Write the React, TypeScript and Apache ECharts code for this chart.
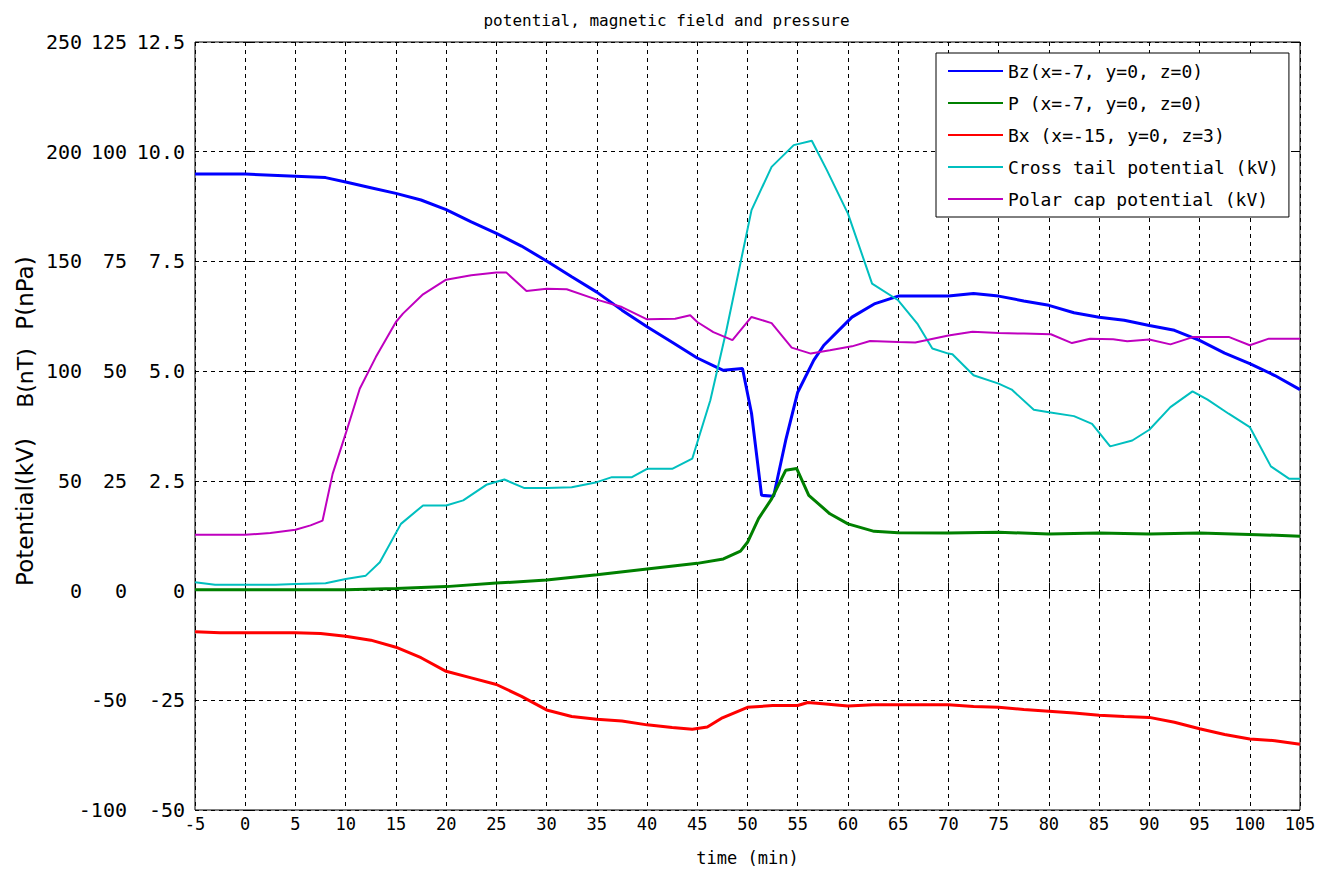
import React, { useEffect, useRef } from "react";
import * as echarts from "echarts";

// ---- data (time in minutes) ----
const bzTime = [-5, 0, 5, 8, 10, 12.5, 15, 17.5, 20, 22.5, 25, 27.5, 30, 32.5, 35, 37.5, 40, 42.5, 45, 47, 47.6, 49.5, 50.4, 51.4, 52.6, 53.8, 55, 56.6, 57.6, 60.4, 62.7, 65, 70, 72.5, 75, 77.5, 80, 82.5, 85, 87.5, 90, 92.5, 95, 97.5, 100, 102.5, 105];
const bzValues = [94.9, 94.9, 94.4, 94.1, 93.1, 91.8, 90.5, 89.0, 86.8, 84.0, 81.4, 78.5, 75.1, 71.5, 68.0, 63.9, 60.1, 56.6, 53.0, 50.8, 50.2, 50.6, 40.4, 21.7, 21.5, 34.2, 45.2, 52.5, 55.9, 62.3, 65.4, 67.1, 67.1, 67.7, 67.1, 66.0, 65.0, 63.3, 62.3, 61.6, 60.4, 59.3, 57.0, 54.1, 51.7, 49.0, 45.8];

const pTime = [-5, 0, 5, 10, 15, 20, 25, 30, 35, 40, 45, 47.6, 49.3, 50, 51.1, 52.4, 53.8, 54.9, 56.1, 58.2, 60, 62.6, 65, 70, 75, 80, 85, 90, 95, 100, 105];
const pValues = [0.02, 0.02, 0.02, 0.02, 0.05, 0.09, 0.17, 0.24, 0.36, 0.49, 0.62, 0.72, 0.90, 1.10, 1.64, 2.09, 2.74, 2.78, 2.17, 1.75, 1.52, 1.35, 1.32, 1.31, 1.33, 1.29, 1.31, 1.29, 1.31, 1.28, 1.24];

const bxTime = [-5, -2.5, 0, 5, 7.5, 10, 12.5, 15, 17.5, 20, 22.5, 25, 27.5, 30, 32.5, 35, 37.5, 40, 42.5, 44.5, 46, 47.5, 50, 52.5, 55, 56, 57.5, 60, 62.5, 65, 70, 72.5, 75, 77.5, 80, 82.5, 85, 87.5, 90, 92.5, 95, 97.5, 100, 102.5, 105];
const bxValues = [-9.4, -9.6, -9.6, -9.6, -9.8, -10.4, -11.3, -12.9, -15.3, -18.4, -19.9, -21.4, -24.1, -27.2, -28.7, -29.3, -29.7, -30.6, -31.2, -31.6, -31.1, -29.0, -26.6, -26.2, -26.2, -25.5, -25.8, -26.3, -26.0, -26.0, -26.0, -26.4, -26.6, -27.1, -27.5, -27.9, -28.4, -28.7, -28.9, -30.0, -31.5, -32.8, -33.8, -34.2, -35.0];

const crossTime = [-5, -3, 0, 3, 5, 8, 10, 12, 13.4, 15.5, 17.7, 20, 21.7, 24, 25.8, 27.8, 30, 32.5, 35, 36.5, 38.5, 40, 42.5, 44.5, 46.3, 47.9, 50.4, 52.4, 54.6, 56.4, 57.9, 60, 62.4, 65, 66.9, 68.4, 70, 70.4, 72.5, 75, 76.3, 78.5, 80, 82.5, 84.3, 86.1, 88.3, 90, 92.1, 94.3, 95.8, 97.9, 100, 102.1, 103.9, 105];
const crossValues = [3.8, 2.6, 2.6, 2.6, 3.0, 3.3, 5.3, 6.8, 12.9, 30.4, 38.8, 38.8, 41.1, 48.2, 50.6, 46.7, 46.7, 47.1, 49.4, 51.7, 51.7, 55.5, 55.5, 60.1, 86.7, 118.6, 173.4, 193.1, 203.0, 205.0, 191.6, 171.8, 139.9, 132.3, 121.7, 110.3, 108.0, 107.7, 98.1, 94.3, 91.6, 82.4, 81.3, 79.5, 76.0, 65.7, 68.4, 73.3, 83.6, 90.8, 87.0, 80.6, 74.5, 56.6, 51.0, 51.0];

const polarTime = [-5, 0, 2.5, 5, 6.5, 7.7, 8.7, 10, 11.4, 13, 15, 15.7, 17.7, 20, 22.5, 25, 26, 28, 30, 32, 35, 37.5, 40, 42.8, 44.3, 45, 46.6, 48.5, 50.4, 52.4, 54.4, 56.3, 58.2, 60.4, 62.2, 65, 66.7, 70, 72.4, 75, 77.5, 80.2, 82.3, 84.1, 86.4, 87.8, 90, 92.1, 94.4, 97.9, 100, 101.9, 105];
const polarValues = [25.4, 25.4, 26.2, 27.7, 29.7, 31.9, 53.2, 71.5, 92.0, 106.4, 122.4, 126.2, 135.0, 141.7, 143.7, 144.9, 144.9, 136.5, 137.6, 137.3, 132.6, 129.2, 123.6, 123.9, 125.5, 122.4, 117.8, 114.1, 124.7, 121.9, 110.7, 108.0, 109.5, 111.3, 113.7, 113.3, 113.1, 116.2, 118.0, 117.4, 117.1, 116.8, 112.8, 114.8, 114.5, 113.6, 114.4, 112.2, 115.6, 115.6, 111.8, 114.8, 114.8];

const seriesNames = [
  "Bz(x=-7, y=0, z=0)",
  "P (x=-7, y=0, z=0)",
  "Bx (x=-15, y=0, z=3)",
  "Cross tail potential (kV)",
  "Polar cap potential (kV)",
];
const seriesColors = ["#0000ff", "#008000", "#ff0000", "#00bfbf", "#bf00bf"];

const MONO = '"DejaVu Sans Mono", monospace';
const SANS = '"DejaVu Sans", sans-serif';

const pair = (t: number[], v: number[]) => t.map((x, i) => [x, v[i]]);

function yLabel(v: number): string {
  const b = v / 2;
  const p = v / 20;
  if (v < 0) return `{b|${v}}{c|${b}}`;
  const pStr = p === 0 ? "0" : p.toFixed(1);
  return `{a|${v}}{b|${b}}{c|${pStr}}`;
}

export default function App() {
  const ref = useRef<HTMLDivElement>(null);
  useEffect(() => {
    const chart = echarts.init(ref.current as HTMLDivElement, null, { renderer: "svg" });
    const gridLine = { show: true, lineStyle: { color: "#000", type: [4, 4] as any, width: 1 } };
    const tick = { show: true, inside: true, length: 8, lineStyle: { color: "#000", width: 1 } };
    const txt = { color: "#000", fontFamily: MONO, fontSize: 17 };
    const ytxt = { color: "#000", fontFamily: MONO, fontSize: 20 };
    const mk = (i: number, data: number[][], yIdx: number, width: number) => ({
      name: seriesNames[i],
      type: "line",
      yAxisIndex: yIdx,
      data,
      symbol: "none",
      showSymbol: false,
      color: seriesColors[i],
      lineStyle: { color: seriesColors[i], width },
      z: 3 + i,
    });
    chart.setOption({
      animation: false,
      backgroundColor: "#fff",
      title: {
        text: "potential, magnetic field and pressure",
        left: "center",
        top: 7,
        textStyle: { color: "#000", fontFamily: MONO, fontSize: 16, fontWeight: "normal" },
      },
      grid: {
        left: 195,
        right: 33,
        top: 42,
        bottom: 65,
        show: true,
        borderColor: "#000",
        borderWidth: 1,
        backgroundColor: "#fff",
        outerBoundsMode: "none",
      },
      legend: {
        orient: "vertical",
        left: 936,
        top: 53,
        padding: [9, 10, 9, 11],
        itemGap: 14,
        itemWidth: 55,
        itemHeight: 14,
        borderColor: "#000",
        borderWidth: 1,
        backgroundColor: "#fff",
        itemStyle: { opacity: 0 },
        textStyle: { color: "#000", fontFamily: MONO, fontSize: 18 },
        data: seriesNames,
      },
      xAxis: [
        {
          type: "value",
          min: -5,
          max: 105,
          interval: 5,
          position: "bottom",
          axisLine: { show: false },
          axisTick: tick,
          axisLabel: { ...txt, margin: 5 },
          splitLine: gridLine,
          name: "time (min)",
          nameLocation: "middle",
          nameGap: 39,
          nameTextStyle: { ...txt },
        },
        {
          type: "value",
          min: -5,
          max: 105,
          interval: 5,
          position: "top",
          axisLine: { show: false },
          axisTick: tick,
          axisLabel: { show: false },
          splitLine: { show: false },
        },
      ],
      yAxis: [
        {
          type: "value",
          min: -100,
          max: 250,
          interval: 50,
          position: "left",
          axisLine: { show: false },
          axisTick: tick,
          splitLine: gridLine,
          axisLabel: {
            ...ytxt,
            margin: 10,
            formatter: yLabel,
            rich: {
              a: { ...ytxt, width: 60, align: "right" },
              b: { ...ytxt, width: 45, align: "right" },
              c: { ...ytxt, width: 58, align: "right" },
            },
          },
        },
        { type: "value", min: -50, max: 125, interval: 25, show: false },
        { type: "value", min: -5, max: 12.5, interval: 2.5, show: false },
        {
          type: "value",
          min: -100,
          max: 250,
          interval: 50,
          position: "right",
          axisLine: { show: false },
          axisTick: tick,
          axisLabel: { show: false },
          splitLine: { show: false },
        },
      ],
      graphic: [
        {
          type: "text",
          x: 25,
          y: 512,
          rotation: Math.PI / 2,
          style: { text: "Potential(kV)", font: `23px ${SANS}`, fill: "#000", align: "center", verticalAlign: "middle" },
        },
        {
          type: "text",
          x: 25,
          y: 378,
          rotation: Math.PI / 2,
          style: { text: "B(nT)", font: `22px ${SANS}`, fill: "#000", align: "center", verticalAlign: "middle" },
        },
        {
          type: "text",
          x: 25,
          y: 293,
          rotation: Math.PI / 2,
          style: { text: "P(nPa)", font: `23px ${SANS}`, fill: "#000", align: "center", verticalAlign: "middle" },
        },
      ],
      series: [
        mk(0, pair(bzTime, bzValues), 1, 3),
        mk(1, pair(pTime, pValues), 2, 3),
        mk(2, pair(bxTime, bxValues), 1, 3),
        mk(3, pair(crossTime, crossValues), 0, 2),
        mk(4, pair(polarTime, polarValues), 0, 2),
      ],
    });
    return () => chart.dispose();
  }, []);
  return (
    <div
      ref={ref}
      style={{ position: "absolute", left: 0, top: 0, width: 1333, height: 875, background: "#fff" }}
    />
  );
}
